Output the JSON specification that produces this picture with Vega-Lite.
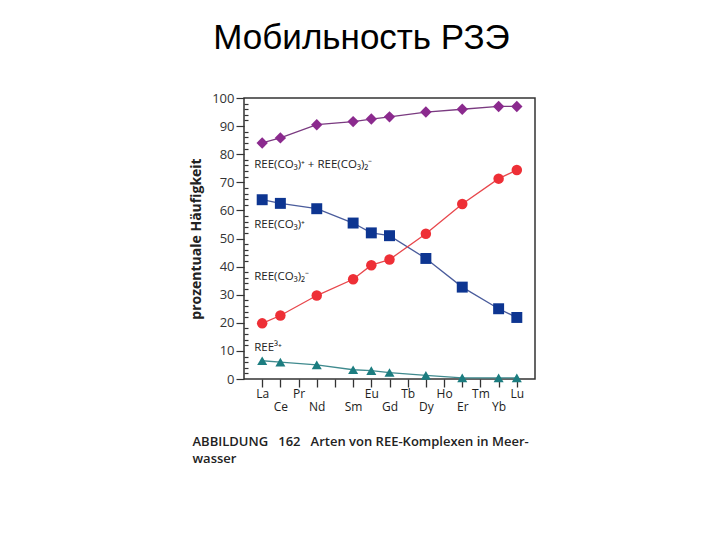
{
  "$schema": "https://vega.github.io/schema/vega-lite/v6.json",
  "width": 291,
  "height": 281,
  "autosize": {"type": "none"},
  "padding": {"left": 244, "top": 98, "right": 185, "bottom": 161},
  "background": "white",
  "config": {
    "view": {"stroke": "#333333", "strokeWidth": 1.5},
    "font": "Open Sans"
  },
  "title": {
    "text": "Мобильность РЗЭ",
    "font": "Liberation Sans",
    "fontSize": 35,
    "fontWeight": "normal",
    "color": "#000000",
    "anchor": "middle",
    "frame": "group",
    "dx": -28,
    "offset": 8,
    "baseline": "alphabetic"
  },
  "datasets": {
    "series": [
      {"el": "La", "s": "sum", "v": 84},
      {"el": "Ce", "s": "sum", "v": 85.8},
      {"el": "Nd", "s": "sum", "v": 90.5},
      {"el": "Sm", "s": "sum", "v": 91.6},
      {"el": "Eu", "s": "sum", "v": 92.5},
      {"el": "Gd", "s": "sum", "v": 93.3},
      {"el": "Dy", "s": "sum", "v": 95},
      {"el": "Er", "s": "sum", "v": 96},
      {"el": "Yb", "s": "sum", "v": 97},
      {"el": "Lu", "s": "sum", "v": 97},
      {"el": "La", "s": "co3", "v": 63.8},
      {"el": "Ce", "s": "co3", "v": 62.5},
      {"el": "Nd", "s": "co3", "v": 60.6},
      {"el": "Sm", "s": "co3", "v": 55.5},
      {"el": "Eu", "s": "co3", "v": 52},
      {"el": "Gd", "s": "co3", "v": 51},
      {"el": "Dy", "s": "co3", "v": 42.9},
      {"el": "Er", "s": "co3", "v": 32.7},
      {"el": "Yb", "s": "co3", "v": 25},
      {"el": "Lu", "s": "co3", "v": 21.9},
      {"el": "La", "s": "co32", "v": 19.8},
      {"el": "Ce", "s": "co32", "v": 22.6},
      {"el": "Nd", "s": "co32", "v": 29.7},
      {"el": "Sm", "s": "co32", "v": 35.5},
      {"el": "Eu", "s": "co32", "v": 40.5},
      {"el": "Gd", "s": "co32", "v": 42.5},
      {"el": "Dy", "s": "co32", "v": 51.7},
      {"el": "Er", "s": "co32", "v": 62.3},
      {"el": "Yb", "s": "co32", "v": 71.3},
      {"el": "Lu", "s": "co32", "v": 74.4},
      {"el": "La", "s": "free", "v": 6.5},
      {"el": "Ce", "s": "free", "v": 6},
      {"el": "Nd", "s": "free", "v": 5},
      {"el": "Sm", "s": "free", "v": 3.3},
      {"el": "Eu", "s": "free", "v": 3},
      {"el": "Gd", "s": "free", "v": 2.3},
      {"el": "Dy", "s": "free", "v": 1.3},
      {"el": "Er", "s": "free", "v": 0.4},
      {"el": "Yb", "s": "free", "v": 0.4},
      {"el": "Lu", "s": "free", "v": 0.4}
    ],
    "labels": [
      {"el": "La", "v": 76, "t": "REE(CO₃)⁺ + REE(CO₃)₂⁻"},
      {"el": "La", "v": 54.7, "t": "REE(CO₃)⁺"},
      {"el": "La", "v": 36.2, "t": "REE(CO₃)₂⁻"},
      {"el": "La", "v": 11.2, "t": "REE³⁺"}
    ]
  },
  "encoding": {
    "x": {
      "field": "el",
      "type": "nominal",
      "scale": {
        "type": "point",
        "padding": 1,
        "domain": ["La", "Ce", "Pr", "Nd", "Pm", "Sm", "Eu", "Gd", "Tb", "Dy", "Ho", "Er", "Tm", "Yb", "Lu"]
      },
      "axis": {
        "title": ["ABBILDUNG\u00a0\u00a0\u00a0162\u00a0\u00a0\u00a0Arten von REE-Komplexen in Meer-", "wasser"],
        "titleFont": "Open Sans",
        "titleFontSize": 13,
        "titleFontWeight": 600,
        "titleColor": "#222222",
        "titleAnchor": "start",
        "titleAlign": "left",
        "titleBaseline": "top",
        "titleX": -52,
        "titleY": 56,
        "titleLineHeight": 17,
        "labelAngle": 0,
        "labelFontSize": 12,
        "labelColor": "#222222",
        "labelExpr": "datum.value == 'Pm' ? '' : datum.value",
        "labelPadding": {"condition": {"test": "indexof(['Ce','Nd','Sm','Gd','Dy','Er','Yb'], datum.value) >= 0", "value": 14}, "value": 1},
        "labelOverlap": false,
        "tickSize": 8,
        "tickColor": "#333333",
        "tickWidth": 1.3,
        "domain": false
      }
    },
    "y": {
      "field": "v",
      "type": "quantitative",
      "scale": {"domain": [0, 100], "nice": false},
      "axis": {
        "title": "prozentuale Häufigkeit",
        "titleFontSize": 14,
        "titleFontWeight": "bold",
        "titleColor": "#222222",
        "titlePadding": 8,
        "values": [0,2,4,6,8,10,12,14,16,18,20,22,24,26,28,30,32,34,36,38,40,42,44,46,48,50,52,54,56,58,60,62,64,66,68,70,72,74,76,78,80,82,84,86,88,90,92,94,96,98,100],
        "labelExpr": "datum.value % 10 === 0 ? datum.value : ''",
        "labelFontSize": 13,
        "labelColor": "#333333",
        "labelPadding": 2,
        "labelOverlap": false,
        "tickSize": {"condition": {"test": "datum.value % 10 === 0", "value": 8}, "value": -4},
        "tickColor": "#333333",
        "tickWidth": 1.2,
        "grid": false,
        "domain": false
      }
    }
  },
  "layer": [
    {
      "data": {"name": "series"},
      "mark": {"type": "line", "strokeWidth": 1.3},
      "encoding": {
        "detail": {"field": "s"},
        "stroke": {
          "field": "s",
          "type": "nominal",
          "scale": {"domain": ["sum", "co3", "co32", "free"], "range": ["#7a3a80", "#4a5c9c", "#e8474c", "#3f8a8e"]},
          "legend": null
        }
      }
    },
    {
      "data": {"name": "series"},
      "mark": {"type": "point", "filled": true, "opacity": 1},
      "encoding": {
        "fill": {
          "field": "s",
          "type": "nominal",
          "scale": {"domain": ["sum", "co3", "co32", "free"], "range": ["#8b2a8e", "#0d3591", "#ee2f36", "#1c7d80"]},
          "legend": null
        },
        "shape": {
          "field": "s",
          "type": "nominal",
          "scale": {"domain": ["sum", "co3", "co32", "free"], "range": ["diamond", "square", "circle", "triangle-up"]},
          "legend": null
        },
        "size": {
          "field": "s",
          "type": "nominal",
          "scale": {"domain": ["sum", "co3", "co32", "free"], "range": [130, 100, 85, 90]},
          "legend": null
        }
      }
    },
    {
      "data": {"name": "labels"},
      "mark": {"type": "text", "align": "left", "baseline": "middle", "dx": -8, "fontSize": 11.5, "font": "Open Sans", "color": "#222222"},
      "encoding": {
        "text": {"field": "t"}
      }
    }
  ]
}
